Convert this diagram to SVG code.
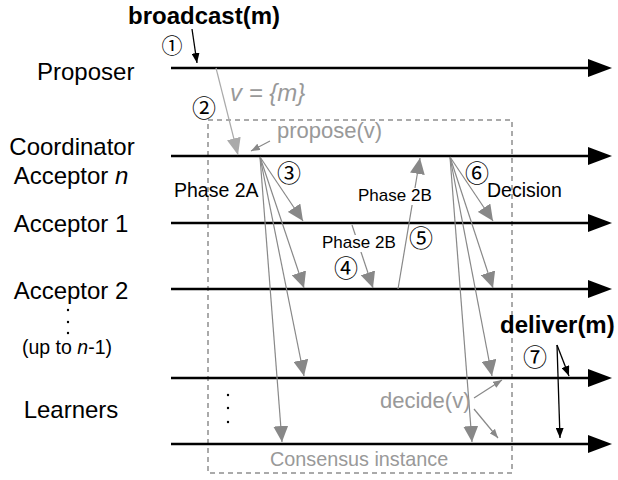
<svg xmlns="http://www.w3.org/2000/svg" width="618" height="480" viewBox="0 0 618 480">
<style>
.lbl{font-family:"Liberation Sans",Arial,sans-serif;font-size:24px;fill:#000}
.bold{font-family:"Liberation Sans",Arial,sans-serif;font-size:24px;font-weight:bold;fill:#000}
.ph{font-family:"Liberation Sans",Arial,sans-serif;font-size:17px;fill:#000}
.gtxt{font-family:"Liberation Sans",Arial,sans-serif;fill:#999}
.num{font-family:"Noto Sans CJK JP","DejaVu Sans",sans-serif;font-size:24px;fill:#000;text-anchor:middle}
.tl{stroke:#000;stroke-width:2.5;fill:none;marker-end:url(#arrT)}
.fan{stroke:#888;stroke-width:1.2;fill:none;marker-end:url(#arrG)}
.sm{stroke:#888;stroke-width:1.2;fill:none;marker-end:url(#arrS)}
.blk{stroke:#000;stroke-width:1.3;fill:none;marker-end:url(#arrK)}
</style>
<defs>
<marker id="arrT" markerUnits="userSpaceOnUse" markerWidth="24" markerHeight="18" refX="1" refY="9" orient="auto"><path d="M0,0 L24,9 L0,18 z" fill="#000"/></marker>
<marker id="arrG" markerUnits="userSpaceOnUse" markerWidth="16" markerHeight="15" refX="16" refY="7.5" orient="auto"><path d="M0,0 L16,7.5 L0,15 z" fill="#888"/></marker>
<marker id="arrL" markerUnits="userSpaceOnUse" markerWidth="17" markerHeight="14" refX="17" refY="7" orient="auto"><path d="M0,0 L17,7 L0,14 z" fill="#aaa"/></marker>
<marker id="arrS" markerUnits="userSpaceOnUse" markerWidth="9" markerHeight="7" refX="9" refY="3.5" orient="auto"><path d="M0,0 L9,3.5 L0,7 z" fill="#888"/></marker>
<marker id="arrK" markerUnits="userSpaceOnUse" markerWidth="10" markerHeight="8" refX="10" refY="4" orient="auto"><path d="M0,0 L10,4 L0,8 z" fill="#000"/></marker>
</defs>
<rect width="618" height="480" fill="#fff"/>

<!-- consensus box -->
<g id="consensus-box">
<rect x="208" y="120" width="304" height="353" fill="none" stroke="#aaa" stroke-width="2" stroke-dasharray="5,4"/>
<text class="gtxt" x="270" y="466" style="font-size:19.8px">Consensus instance</text>
</g>

<!-- process labels -->
<g id="proposer"><text class="lbl" x="37" y="80">Proposer</text></g>
<g id="coordinator"><text class="lbl" x="72" y="155" text-anchor="middle">Coordinator</text>
<text class="lbl" x="71" y="184" text-anchor="middle">Acceptor <tspan font-style="italic">n</tspan></text></g>
<g id="acceptor1"><text class="lbl" x="71" y="232" text-anchor="middle">Acceptor 1</text></g>
<g id="acceptor2"><text class="lbl" x="71" y="299" text-anchor="middle">Acceptor 2</text>
<circle cx="68" cy="310" r="1.2"/><circle cx="68" cy="322" r="1.2"/><circle cx="68" cy="333" r="1.2"/>
<text class="lbl" x="67" y="354" text-anchor="middle" style="font-size:19.5px">(up to <tspan font-style="italic">n</tspan>-1)</text></g>
<g id="learners"><text class="lbl" x="71" y="418" text-anchor="middle">Learners</text>
<circle cx="228" cy="395" r="1.2"/><circle cx="228" cy="408" r="1.2"/><circle cx="228" cy="422" r="1.2"/></g>

<!-- timelines and connectors -->
<g id="connectors">
<line class="tl" x1="171" y1="68" x2="589" y2="68"/>
<line class="tl" x1="171" y1="156" x2="589" y2="156"/>
<line class="tl" x1="171" y1="223" x2="589" y2="223"/>
<line class="tl" x1="171" y1="289" x2="589" y2="289"/>
<line class="tl" x1="171" y1="378" x2="589" y2="378"/>
<line class="tl" x1="171" y1="444" x2="589" y2="444"/>

<line class="blk" x1="192" y1="29" x2="197" y2="63"/>
<line x1="216" y1="68" x2="238" y2="155" stroke="#aaa" stroke-width="1.2" marker-end="url(#arrL)"/>
<line class="sm" x1="270" y1="141" x2="251" y2="151"/>

<line class="fan" x1="260" y1="157" x2="303" y2="221"/>
<line class="fan" x1="260" y1="157" x2="304" y2="288"/>
<line class="fan" x1="260" y1="157" x2="304" y2="376"/>
<line class="fan" x1="260" y1="157" x2="282" y2="442"/>

<line class="fan" x1="352" y1="225" x2="373" y2="288"/>
<line class="fan" x1="398" y1="289" x2="420" y2="158"/>

<line class="fan" x1="450" y1="157" x2="493" y2="221"/>
<line class="fan" x1="450" y1="157" x2="493" y2="288"/>
<line class="fan" x1="450" y1="157" x2="492" y2="376"/>
<line class="fan" x1="450" y1="157" x2="472" y2="442"/>

<line class="sm" x1="474" y1="398" x2="502" y2="380"/>
<line class="sm" x1="474" y1="409" x2="498" y2="438"/>

<line class="blk" x1="557" y1="345" x2="569" y2="376"/>
<line class="blk" x1="557" y1="345" x2="560" y2="438"/>
</g>

<!-- annotations -->
<g id="annotations">
<text class="bold" x="128" y="23.5">broadcast(m)</text>
<text class="num" x="172" y="52.5" style="font-size:21px">①</text>
<text class="num" x="204" y="117">②</text>
<text class="gtxt" x="230" y="101" style="font-size:24px;font-style:italic">v = {m}</text>
<text class="gtxt" x="277" y="138" style="font-size:22px">propose(v)</text>
<text class="ph" x="174" y="197" style="font-size:19.5px">Phase 2A</text>
<text class="num" x="289" y="182">③</text>
<rect x="321" y="235" width="76" height="17" fill="#fff"/>
<text class="ph" x="322" y="248">Phase 2B</text>
<text class="num" x="346" y="277">④</text>
<rect x="357" y="188" width="76" height="17" fill="#fff"/>
<text class="ph" x="358" y="201">Phase 2B</text>
<text class="num" x="421" y="247">⑤</text>
<text class="num" x="477" y="182">⑥</text>
<text class="ph" x="487" y="197" style="font-size:19.5px">Decision</text>
<text class="gtxt" x="380" y="408" style="font-size:22px">decide(v)</text>
<text class="bold" x="500" y="333">deliver(m)</text>
<text class="num" x="535" y="366">⑦</text>
</g>
</svg>
